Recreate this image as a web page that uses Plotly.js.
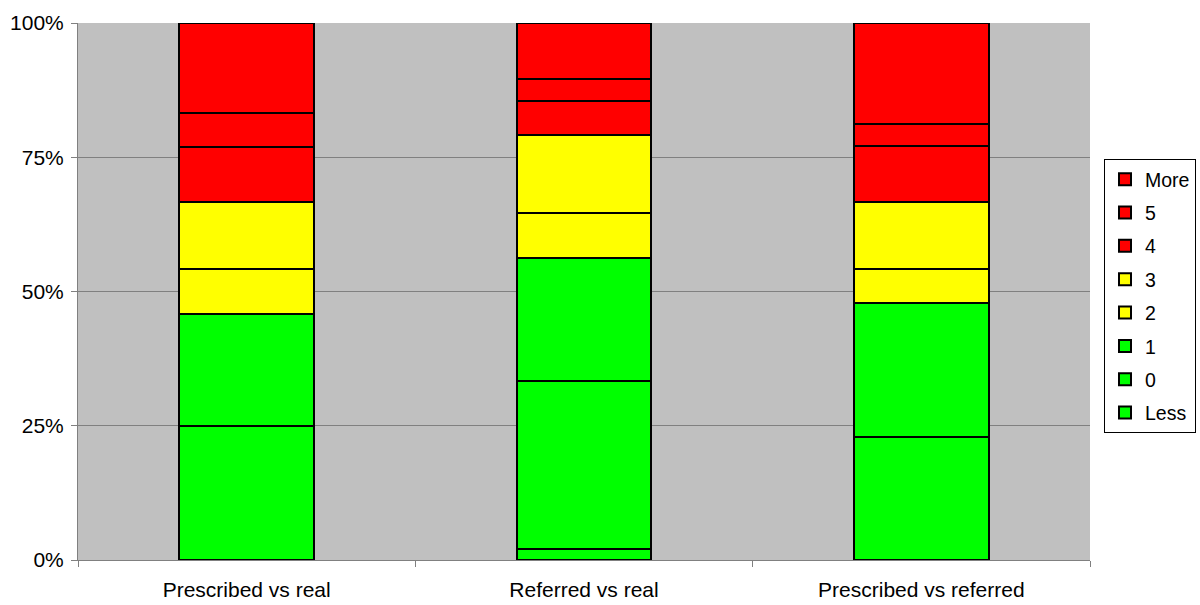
<!DOCTYPE html>
<html>
<head>
<meta charset="utf-8">
<script src="https://cdn.plot.ly/plotly-3.0.1.min.js"></script>
<style>
html,body{margin:0;padding:0;background:#fff;}
#chart{width:1200px;height:605px;}
</style>
</head>
<body>
<div id="chart"></div>
<script>
// Categories (x axis)
var categories = ["Prescribed vs real", "Referred vs real", "Prescribed vs referred"];

// Series names, bottom to top of each stack
var seriesNames = ["Less", "0", "1", "2", "3", "4", "5", "More"];

// Share of each series in every bar (%)
var lessVals = [0.0, 2.1, 0.0];
var zeroVals = [25.0, 31.3, 22.9];
var oneVals  = [20.8, 22.9, 25.0];
var twoVals  = [8.3, 8.3, 6.3];
var threeVals = [12.5, 14.6, 12.5];
var fourVals = [10.4, 6.3, 10.4];
var fiveVals = [6.3, 4.2, 4.2];
var moreVals = [16.7, 10.4, 18.8];

// Y tick labels
var yTickVals = [0, 25, 50, 75, 100];
var yTickText = ["0%", "25%", "50%", "75%", "100%"];

var seriesValues = [lessVals, zeroVals, oneVals, twoVals, threeVals, fourVals, fiveVals, moreVals];
var seriesColors = ["#00FF00", "#00FF00", "#00FF00", "#FFFF00", "#FFFF00", "#FF0000", "#FF0000", "#FF0000"];

var traces = seriesNames.map(function(name, i) {
  return {
    type: "bar",
    name: name,
    x: categories,
    y: seriesValues[i],
    legendgroup: "g" + i,
    legendrank: 100 - i,
    marker: {color: seriesColors[i], line: {color: "#000000", width: 2}},
    width: 0.4,
    hoverinfo: "name+y"
  };
});

var font = "'Liberation Sans', Arial, sans-serif";

var layout = {
  width: 1200,
  height: 605,
  margin: {l: 78, r: 110, t: 23, b: 45, pad: 0},
  paper_bgcolor: "#ffffff",
  plot_bgcolor: "#C0C0C0",
  barmode: "stack",
  barnorm: "percent",
  showlegend: true,
  font: {family: font, size: 20, color: "#000000"},
  xaxis: {
    type: "category",
    showgrid: false,
    showline: true,
    linecolor: "#808080",
    linewidth: 1,
    ticks: "outside",
    tickson: "boundaries",
    ticklen: 6,
    tickcolor: "#808080",
    ticklabelstandoff: 11,
    tickfont: {family: font, size: 21, color: "#000000"},
    zeroline: false
  },
  yaxis: {
    range: [0, 100],
    tickvals: yTickVals,
    ticktext: yTickText,
    showgrid: true,
    gridcolor: "#808080",
    gridwidth: 1,
    showline: true,
    linecolor: "#808080",
    linewidth: 1,
    ticks: "outside",
    ticklen: 6,
    tickcolor: "#808080",
    ticklabelstandoff: 3,
    tickfont: {family: font, size: 21, color: "#000000"},
    zeroline: false,
    fixedrange: true
  },
  legend: {
    xref: "container",
    yref: "container",
    x: 0.92,
    xanchor: "left",
    y: 0.7372,
    yanchor: "top",
    traceorder: "grouped",
    tracegroupgap: 5,
    bgcolor: "#ffffff",
    bordercolor: "#000000",
    borderwidth: 1,
    font: {family: font, size: 19.5, color: "#000000"},
    itemwidth: 30
  }
};

Plotly.newPlot("chart", traces, layout, {displayModeBar: false, staticPlot: true});
</script>
</body>
</html>
